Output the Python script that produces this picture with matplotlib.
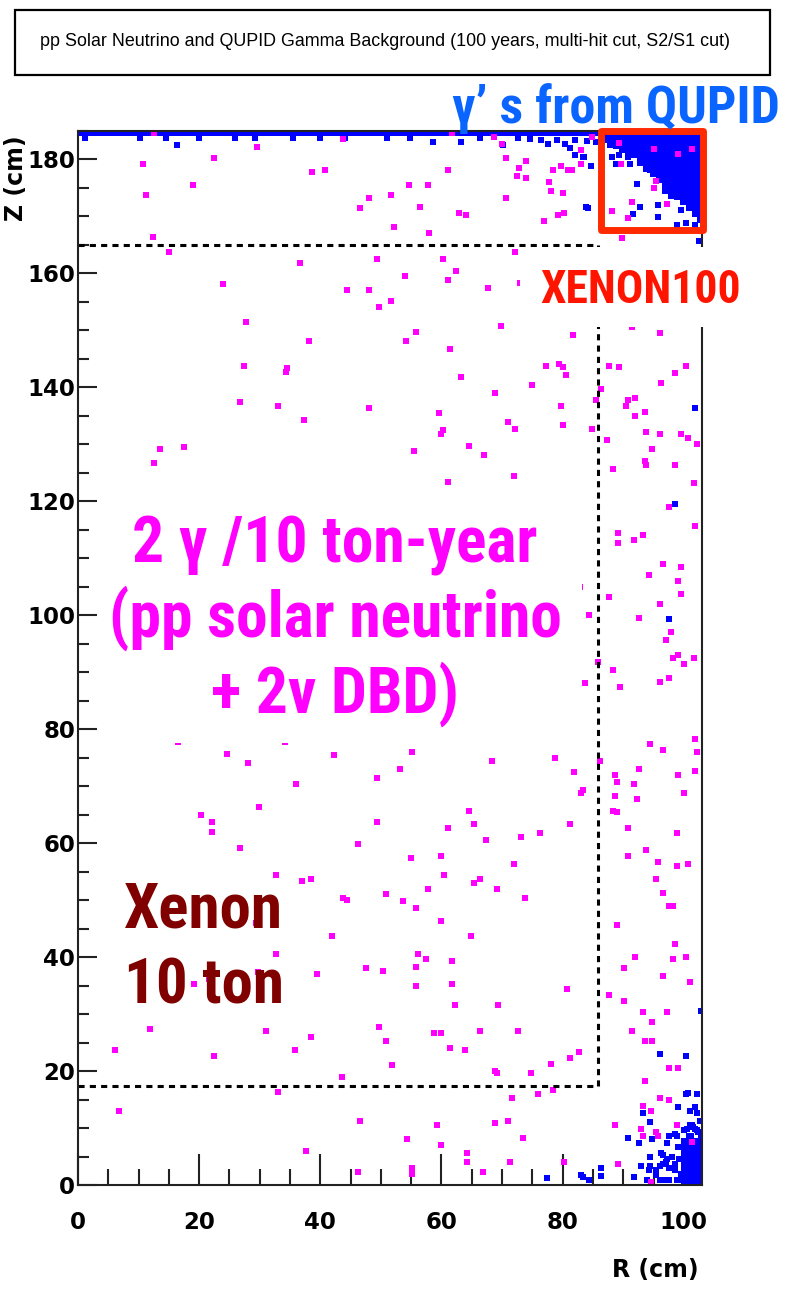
import matplotlib
matplotlib.use("Agg")
import matplotlib.pyplot as plt
from matplotlib import font_manager
from matplotlib.font_manager import FontProperties
from matplotlib.patches import Rectangle
from matplotlib.textpath import TextPath
from matplotlib.ticker import MultipleLocator

# ---------------- data ----------------
# magenta: pp solar neutrino + 2v DBD events (R, Z) in cm
mag_r = [12.5, 10.8, 11.3, 12.3, 15.1, 19.0, 22.5, 24.0, 27.7, 27.4, 26.8, 29.6, 36.7, 38.2, 38.6, 40.8,
         34.3, 34.5, 33.0, 37.3, 43.8, 44.4, 46.5, 48.1, 48.1, 49.4, 49.7, 51.6, 51.6, 52.2, 48.1,
         61.7, 61.1, 54.7, 57.7, 56.4, 62.9, 64.1, 58.0, 68.7, 70.0, 70.6, 74.0, 72.8, 72.5, 74.0,
         70.6, 77.8, 78.1, 80.0, 78.4, 79.7, 80.9, 81.5, 83.1, 83.1, 84.8, 76.9, 79.3, 80.2, 89.8,
         72.2, 60.2, 62.4, 61.1, 54.0, 67.6, 72.9, 69.9, 55.8, 54.2, 61.4, 81.7, 77.2, 79.4, 80.1,
         80.5, 63.2, 87.7, 89.3, 96.0, 100.3, 98.5, 91.4,
         89.3, 89.6, 95.0, 99.1, 101.3, 95.4, 95.0, 91.4, 97.2, 88.2, 90.8,
         96.3, 86.4, 85.5, 90.8, 90.4, 92.0, 92.0, 93.6, 84.9, 87.3, 93.8, 96.0, 99.5, 100.7, 102.2,
         94.8, 93.6, 93.8, 98.5, 88.3, 101.6, 97.5, 101.9, 89.2, 93.2, 89.2, 91.7, 96.6, 99.5, 94.2,
         99.1, 99.5, 96.0, 87.7, 82.9, 84.3, 92.6, 97.9, 97.0, 99.1, 98.2, 100.0, 101.6, 85.9, 88.3,
         83.7, 89.5, 96.0, 97.6,
         13.5, 12.6, 17.5, 16.5, 24.6, 28.1, 34.2, 38.0, 42.2, 36.0,
         20.3, 22.2, 22.2, 29.9, 26.8, 32.7, 37.0, 38.5, 42.0, 32.7, 39.4, 29.4, 29.7, 21.7, 19.1,
         11.9, 6.1, 22.4, 31.1, 35.8, 38.5, 6.7, 33.0, 37.6,
         59.6, 60.2, 59.9, 55.5, 64.5, 67.0, 61.1, 68.8, 75.0, 71.0, 72.2, 71.9, 79.7, 80.0, 49.4,
         53.1, 55.2, 68.3, 78.7,
         49.4, 46.3, 54.9, 59.9, 61.1, 64.5, 65.4, 67.3, 73.1, 76.2, 81.2, 71.9, 60.4, 65.4, 66.3,
         69.1, 73.8, 57.7, 43.8, 44.4, 50.9, 53.7, 55.8, 59.9, 64.9, 56.2, 57.4, 55.8, 61.7, 47.5,
         50.3, 55.8, 61.7, 62.3, 69.4, 80.7, 49.7, 50.9, 58.8, 59.9, 66.4, 72.6, 61.4, 63.9, 51.8,
         43.5, 68.8, 69.2, 74.7, 78.1, 81.2, 76.0, 78.4, 71.6, 46.6, 59.2, 68.8, 71.0, 73.4, 54.3,
         59.9, 64.2, 64.2, 71.3, 66.9, 46.3, 55.2, 55.2, 80.2,
         81.8, 83.0, 83.3, 86.1, 94.4, 96.6, 101.9, 102.2, 101.9, 88.6, 88.9, 88.6, 91.7, 92.6, 92.3,
         99.1, 100.0, 88.3, 88.9, 90.8, 98.8, 90.8, 93.8, 95.7, 98.8, 100.7, 95.4, 96.6, 97.6, 98.2,
         88.9, 98.5, 92.0, 98.2, 100.3, 90.1, 96.6, 101.0, 87.7, 90.1, 93.2, 97.2, 94.8, 91.4, 93.6,
         94.8, 97.6, 99.1, 93.6, 82.7, 96.0, 97.6, 93.2, 94.5, 88.6, 93.0, 93.2, 95.4, 95.7, 98.8,
         101.3, 89.2, 94.5]
mag_z = [184.6, 179.1, 173.7, 166.4, 163.7, 175.4, 180.1, 158.0, 151.4, 143.7, 137.4, 182.1, 161.7, 148.1, 177.7, 178.1,
         142.7, 143.3, 136.7, 134.2, 183.5, 157.0, 171.4, 173.1, 157.0, 162.4, 154.0, 155.1, 173.7, 168.1, 136.4,
         184.5, 178.1, 175.4, 175.4, 171.5, 170.5, 170.1, 167.1, 183.9, 182.7, 180.1, 179.7, 178.4, 177.1, 176.7,
         173.1, 176.0, 174.3, 174.0, 178.1, 178.7, 178.1, 178.1, 179.1, 181.5, 183.8, 169.1, 170.1, 170.5, 166.1,
         163.7, 162.4, 160.4, 158.8, 159.4, 157.4, 158.2, 150.7, 149.7, 148.1, 146.7, 149.1, 143.7, 144.0, 143.5,
         142.1, 141.8, 143.7, 143.5, 149.4, 143.7, 142.4, 150.5,
         182.8, 179.1, 181.8, 180.8, 181.8, 176.1, 174.9, 172.4, 172.1, 170.8, 169.7,
         140.7, 139.7, 137.7, 137.7, 136.7, 138.0, 135.0, 135.7, 132.7, 130.7, 132.1, 131.7, 131.7, 131.1, 130.0,
         129.1, 127.0, 126.4, 126.4, 125.7, 123.1, 119.0, 115.7, 114.4, 114.0, 112.7, 113.1, 109.0, 108.4, 107.0,
         106.0, 103.7, 102.0, 103.1, 105.0, 100.0, 99.4, 97.0, 95.7, 93.0, 92.4, 91.4, 92.4, 91.7, 90.4,
         88.0, 87.3, 88.3, 89.0,
         129.1, 126.7, 129.4, 77.8, 75.6, 74.0, 77.7, 78.0, 75.4, 70.4,
         65.0, 63.6, 61.9, 66.3, 59.2, 54.3, 53.3, 53.6, 43.6, 40.6, 37.0, 45.9, 37.3, 36.1, 35.3,
         27.3, 23.6, 22.7, 27.0, 23.6, 26.0, 12.9, 16.3, 5.9,
         135.4, 132.4, 131.7, 128.8, 129.7, 128.0, 123.4, 139.0, 140.4, 133.9, 132.7, 124.4, 136.7, 133.4, 71.4,
         73.0, 76.0, 74.4, 75.0,
         63.6, 59.9, 57.3, 57.7, 62.6, 65.6, 63.3, 60.6, 61.0, 61.7, 63.3, 56.3, 54.3, 53.0, 53.6,
         51.9, 50.3, 51.9, 50.3, 50.0, 51.0, 49.9, 48.6, 46.3, 43.6, 40.6, 39.6, 38.2, 39.3, 38.0,
         37.6, 34.9, 35.3, 31.6, 31.6, 34.3, 27.7, 25.3, 26.6, 26.6, 27.0, 27.0, 24.0, 23.6, 21.0,
         18.9, 20.0, 19.6, 19.6, 21.3, 22.3, 16.0, 16.6, 15.3, 11.3, 10.6, 10.9, 11.3, 8.3, 8.0,
         7.0, 5.7, 4.0, 4.0, 2.3, 2.3, 3.0, 1.9, 4.0,
         72.4, 68.7, 69.3, 74.3, 77.3, 76.3, 78.3, 76.0, 72.6, 72.0, 70.7, 68.3, 70.3, 73.0, 67.7,
         72.0, 68.7, 65.7, 65.4, 62.6, 61.7, 57.7, 58.7, 56.6, 56.0, 56.3, 53.6, 51.3, 48.9, 48.9,
         45.6, 42.3, 40.0, 39.6, 40.0, 38.0, 36.6, 35.6, 33.3, 32.3, 30.3, 30.3, 28.6, 27.0, 25.3,
         25.3, 20.6, 20.6, 18.3, 23.3, 15.2, 14.9, 13.9, 12.9, 10.6, 9.9, 8.6, 9.3, 8.6, 10.6,
         7.6, 3.7, 0.6]

# blue: gammas from QUPIDs
# saturated band just under the top QUPID array
band_r = [0.4, 1.2, 2.1, 3.0, 3.8, 4.7, 5.6, 6.4, 7.3, 8.2, 9.0, 9.9, 10.8, 11.6, 12.5, 13.4, 14.2,
          15.1, 16.0, 16.8, 17.7, 18.6, 19.4, 20.3, 21.2, 22.0, 22.9, 23.8, 24.6, 25.5, 26.4, 27.2,
          28.1, 29.0, 29.8, 30.7, 31.6, 32.4, 33.3, 34.2, 35.0, 35.9, 36.8, 37.6, 38.5, 39.4, 40.2,
          41.1, 42.0, 42.8, 43.7, 44.6, 45.4, 46.3, 47.2, 48.0, 48.9, 49.8, 50.6, 51.5, 52.4, 53.2,
          54.1, 55.0, 55.8, 56.7, 57.6, 58.4, 59.3, 60.2, 61.0, 61.9, 62.8, 63.6, 64.5, 65.4, 66.2,
          67.1, 68.0, 68.8, 69.7, 70.6, 71.4, 72.3, 73.2, 74.0, 74.9, 75.8, 76.6, 77.5, 78.4, 79.2,
          80.1, 81.0, 81.8, 82.7, 83.6, 84.4, 85.3, 86.2]
band_z_level = 184.5
blip_r = [1.2, 10.2, 14.5, 20.0, 25.9, 29.2, 35.5, 40.0, 44.0, 51.0, 54.8, 66.3, 72.6, 74.6, 76.5,
          79.0, 82.0, 84.0, 85.5, 86.5]
blip_z = [183.6, 183.6, 183.7, 183.7, 183.6, 183.6, 183.6, 183.6, 183.7, 183.6, 183.6, 183.6, 183.6,
          183.5, 183.4, 183.4, 183.3, 183.2, 183.0, 183.0]
# saturated corner under the side/top QUPIDs (R column -> Z values)
corner_cols = {
    87.0: [184.5, 183.5],
    88.0: [184.5, 183.5, 182.7],
    89.0: [184.5, 183.5, 182.5],
    90.0: [184.5, 183.5, 182.5, 181.8],
    91.0: [184.5, 183.5, 182.5, 181.5],
    92.0: [184.5, 183.5, 182.5, 181.5, 180.8],
    93.0: [184.5, 183.5, 182.5, 181.5, 180.5, 179.5],
    94.0: [184.5, 183.5, 182.5, 181.5, 180.5, 179.5, 178.5],
    94.6: [184.5, 183.5, 182.5, 181.5, 180.5, 179.5, 178.3],
    95.0: [184.5, 183.5, 182.5, 181.5, 180.5, 179.5, 178.5, 177.5],
    96.0: [184.5, 183.5, 182.5, 181.5, 180.5, 179.5, 178.5, 177.5, 176.5],
    97.0: [184.5, 183.5, 182.5, 181.5, 180.5, 179.5, 178.5, 177.5, 176.5, 175.5, 174.6],
    98.0: [184.5, 183.5, 182.5, 181.5, 180.5, 179.5, 178.5, 177.5, 176.5, 175.5, 174.5, 173.6],
    99.0: [184.5, 183.5, 182.5, 181.5, 180.5, 179.5, 178.5, 177.5, 176.5, 175.5, 174.5, 173.5],
    100.0: [184.5, 183.5, 182.5, 181.5, 180.5, 179.5, 178.5, 177.5, 176.5, 175.5, 174.5, 173.5, 172.6],
    101.0: [184.5, 183.5, 182.5, 181.5, 180.5, 179.5, 178.5, 177.5, 176.5, 175.5, 174.5, 173.5, 172.5, 171.6],
    102.0: [184.5, 183.5, 182.5, 181.5, 180.5, 179.5, 178.5, 177.5, 176.5, 175.5, 174.5, 173.5, 172.5,
            171.5, 170.5],
    102.8: [184.5, 183.5, 182.5, 181.5, 180.5, 179.5, 178.5, 177.5, 176.5, 175.5, 174.5, 173.5, 172.5,
            171.5, 170.5, 169.5],
}
# saturated cluster at the bottom corner (R column -> Z values)
bottom_cols = {
    100.2: [0.6, 1.6, 2.6, 3.6, 4.6, 5.6, 6.6, 7.6],
    101.0: [0.6, 1.6, 2.6, 3.6, 4.6, 5.6, 6.6, 7.6, 8.4],
    101.8: [0.6, 1.6, 2.6, 3.6, 4.6, 5.6, 6.6, 7.6],
    102.6: [0.6, 1.6, 2.6, 3.6, 4.6, 5.6, 6.6, 7.4],
}
# isolated blue events
blue_r = [16.3, 58.6, 63.3, 70.2, 77.6, 80.4, 81.2, 82.0, 83.4, 84.6, 83.5, 88.1, 89.3, 88.8, 90.8,
          91.1, 92.3, 83.9, 84.2, 92.7, 95.8, 91.6, 95.8, 99.6, 101.0, 102.1, 98.8, 100.4, 101.8,
          102.5, 101.9, 98.5, 97.6, 102.9, 96.0, 100.3, 77.4,
          100.3, 100.7, 102.2, 99.1, 101.0, 101.9, 102.2, 93.2, 94.4, 102.9, 101.0, 100.0, 101.5,
          102.2, 90.8, 92.6, 94.8, 97.2, 97.6, 98.5, 98.8, 102.9, 99.1, 94.4, 96.6, 97.2, 93.0, 94.4,
          94.2, 95.4, 96.0, 95.4, 96.6, 97.6, 98.5, 98.5, 86.4, 86.4, 83.0, 83.4, 84.3, 91.7, 94.0,
          96.0, 96.8, 97.6, 98.8, 99.7, 100.5, 101.3, 101.8, 102.6, 102.4, 96.2, 97.0, 98.0, 98.4,
          99.2, 99.6]
blue_z = [182.4, 183.0, 183.0, 182.5, 182.7, 182.7, 181.9, 180.7, 180.4, 178.8, 180.4, 180.4, 180.7,
          179.1, 180.4, 179.1, 175.7, 171.6, 171.4, 171.5, 172.0, 170.3, 169.8, 171.1, 171.5, 171.7,
          168.4, 168.7, 168.4, 165.7, 136.4, 119.4, 99.3, 30.6, 22.9, 22.6, 1.3,
          15.9, 16.2, 15.9, 13.6, 12.9, 13.6, 12.6, 12.6, 11.0, 11.3, 10.6, 9.6, 10.2,
          9.6, 8.3, 7.3, 8.0, 7.3, 8.6, 9.0, 8.6, 8.6, 6.6, 5.0, 5.3, 4.6, 3.3, 3.3,
          2.6, 2.6, 3.3, 1.8, 3.7, 2.9, 3.7, 2.6, 2.9, 1.6, 1.8, 1.4, 0.8, 1.4, 0.8,
          0.8, 0.8, 0.8, 0.8, 0.8, 9.9, 10.5, 9.8, 11.2, 9.3, 5.6, 4.0, 5.0, 3.0,
          4.5, 2.0]

# fiducial volume (dashed) and axis ranges
fid_r = 85.8
fid_zlo, fid_zhi = 17.4, 165.0
r_max, z_max = 103.0, 185.0
x_ticks_major, x_ticks_minor = 20, 5
y_ticks_major, y_ticks_minor = 20, 5

title = "pp Solar Neutrino and QUPID Gamma Background (100 years, multi-hit cut, S2/S1 cut)"

# ---------------- fonts ----------------
def _w(v):
    if isinstance(v, str):
        return font_manager.weight_dict.get(v, 400)
    return v

def find_condensed_bold():
    prefs = ["Liberation Sans Narrow", "Arial Narrow", "Nimbus Sans Narrow", "Roboto Condensed",
             "Open Sans Condensed", "Noto Sans Condensed", "Noto Sans", "Open Sans", "Roboto"]
    ents = font_manager.fontManager.ttflist
    for p in prefs:
        for f in ents:
            if f.name != p or f.style != "normal" or _w(f.weight) < 700:
                continue
            if "Narrow" in f.name or "Condensed" in f.name or "condensed" in str(f.stretch):
                return f.fname
    return None

cond_path = find_condensed_bold()
if cond_path:
    over_prop = FontProperties(fname=cond_path)
    over_fp = dict(fontproperties=over_prop)
else:
    over_prop = FontProperties(family="Liberation Sans", weight="bold")
    over_fp = dict(family=["Liberation Sans", "DejaVu Sans"], fontweight="bold")

W, H = 786, 1291
fig = plt.figure(figsize=(W / 100, H / 100), dpi=100)
renderer = fig.canvas.get_renderer()

def fx(x):
    return x / W

def fy(y):
    return 1 - y / H

def fit_size(s, target_w, target_cap=None, ref_char="H", **kw):
    """font size matching the text width seen in the picture; if a cap height is given,
    take the geometric mean with the size matching that height."""
    t = fig.text(0, 0, s, fontsize=40, **kw)
    w = t.get_window_extent(renderer=renderer).width
    t.remove()
    size_w = 40 * target_w / w
    if target_cap is None:
        return size_w
    cap_pt = TextPath((0, 0), ref_char, size=40, prop=over_prop).get_extents().height
    cap_px = cap_pt * 100 / 72
    size_h = 40 * target_cap / cap_px
    return (size_w * size_h) ** 0.5

ax = fig.add_axes([fx(78), fy(1185), fx(702) - fx(78), fy(130.5) - fy(1185)])
ax.set_xlim(0, r_max)
ax.set_ylim(0, z_max)

ms = 19
ms_sat = 30
iso_r = list(band_r) + blip_r + blue_r
iso_z = [band_z_level] * len(band_r) + blip_z + blue_z
sat_r, sat_z = [], []
for rr, zz in list(corner_cols.items()) + list(bottom_cols.items()):
    sat_r += [rr] * len(zz)
    sat_z += zz
ax.scatter(sat_r, sat_z, s=ms_sat, marker="s", c="#0000ff", linewidths=0, zorder=2)
ax.scatter(iso_r, iso_z, s=ms, marker="s", c="#0000ff", linewidths=0, zorder=2.05)
ax.scatter(mag_r, mag_z, s=ms, marker="s", c="#ff00ff", linewidths=0, zorder=2.2)

# fiducial dashed lines
dash = dict(color="black", lw=2.2, ls=(0, (2.0, 1.7)), zorder=2.4, solid_capstyle="butt")
ax.plot([0, fid_r], [fid_zhi, fid_zhi], **dash)
ax.plot([0, fid_r], [fid_zlo, fid_zlo], **dash)
ax.plot([fid_r, fid_r], [fid_zlo, fid_zhi], **dash)

# axes styling
for sp in ax.spines.values():
    sp.set_linewidth(1.5)
    sp.set_color("#222222")
ax.xaxis.set_major_locator(MultipleLocator(x_ticks_major))
ax.xaxis.set_minor_locator(MultipleLocator(x_ticks_minor))
ax.yaxis.set_major_locator(MultipleLocator(y_ticks_major))
ax.yaxis.set_minor_locator(MultipleLocator(y_ticks_minor))
ax.tick_params(axis="x", which="major", direction="in", length=22, width=1.5, pad=19,
               labelsize=16.5, top=False, color="#222222")
ax.tick_params(axis="x", which="minor", direction="in", length=11.5, width=1.5, top=False, color="#222222")
ax.tick_params(axis="y", which="major", direction="in", length=13.5, width=1.5, pad=2,
               labelsize=16.5, right=False, color="#222222")
ax.tick_params(axis="y", which="minor", direction="in", length=8, width=1.5, right=False, color="#222222")
for lab in ax.get_xticklabels() + ax.get_yticklabels():
    lab.set_fontweight("bold")
    lab.set_family("DejaVu Sans")

fig.text(fx(655), fy(1270), "R (cm)", ha="center", va="center", fontsize=17,
         fontweight="bold", family="DejaVu Sans")
fig.text(fx(16), fy(178), "Z (cm)", ha="center", va="center", rotation=90, fontsize=17,
         fontweight="bold", family="DejaVu Sans")

# title pave
fig.add_artist(Rectangle((fx(15), fy(75)), fx(770) - fx(15), fy(10) - fy(75),
                         transform=fig.transFigure, fill=False, ec="black", lw=1.6))
title_kw = dict(family=["Liberation Sans", "DejaVu Sans"])
fig.text(fx(385), fy(42), title, ha="center", va="center",
         fontsize=fit_size(title, 686, **title_kw), **title_kw)

# white text boxes covering plot content
ax.add_patch(Rectangle((3.6, 77.5), 83.2 - 3.6, 121.9 - 77.5, fc="white", ec="none",
                       zorder=4, clip_on=False))
ax.add_patch(Rectangle((72.9, 150.5), 111.0 - 72.9, 164.6 - 150.5, fc="white", ec="none",
                       zorder=4, clip_on=False))

# red XENON100 box
ax.add_patch(Rectangle((86.4, 167.5), 103.2 - 86.4, 185.0 - 167.5, fill=False, ec="#ff2a00",
                       lw=5, joinstyle="round", zorder=6, clip_on=False))

# overlay texts (sizes fitted to the widths / cap heights seen in the picture)
s_q = fit_size("γ’ s from QUPID", 330, 36.7, **over_fp)
fig.text(fx(452), fy(123), "γ’ s from QUPID", ha="left", va="baseline", fontsize=s_q,
         color="#0a64ff", zorder=7, **over_fp)
s_x = fit_size("XENON100", 205, 31.7, **over_fp)
fig.text(fx(540), fy(303), "XENON100", ha="left", va="baseline", fontsize=s_x,
         color="#ff1400", zorder=7, **over_fp)
s_p = fit_size("(pp solar neutrino", 444, 46.0, **over_fp)
for txt, yb in [("2 γ /10 ton-year", 563), ("(pp solar neutrino", 637), ("+ 2v DBD)", 713)]:
    fig.text(fx(335), fy(yb), txt, ha="center", va="baseline", fontsize=s_p,
             color="#ff00ff", zorder=7, **over_fp)
s_xe = fit_size("Xenon", 158, 45.0, **over_fp)
for txt, yb in [("Xenon", 928), ("10 ton", 1003)]:
    fig.text(fx(124), fy(yb), txt, ha="left", va="baseline", fontsize=s_xe,
             color="#800000", zorder=7, **over_fp)

fig.savefig("out.png", dpi=100)
